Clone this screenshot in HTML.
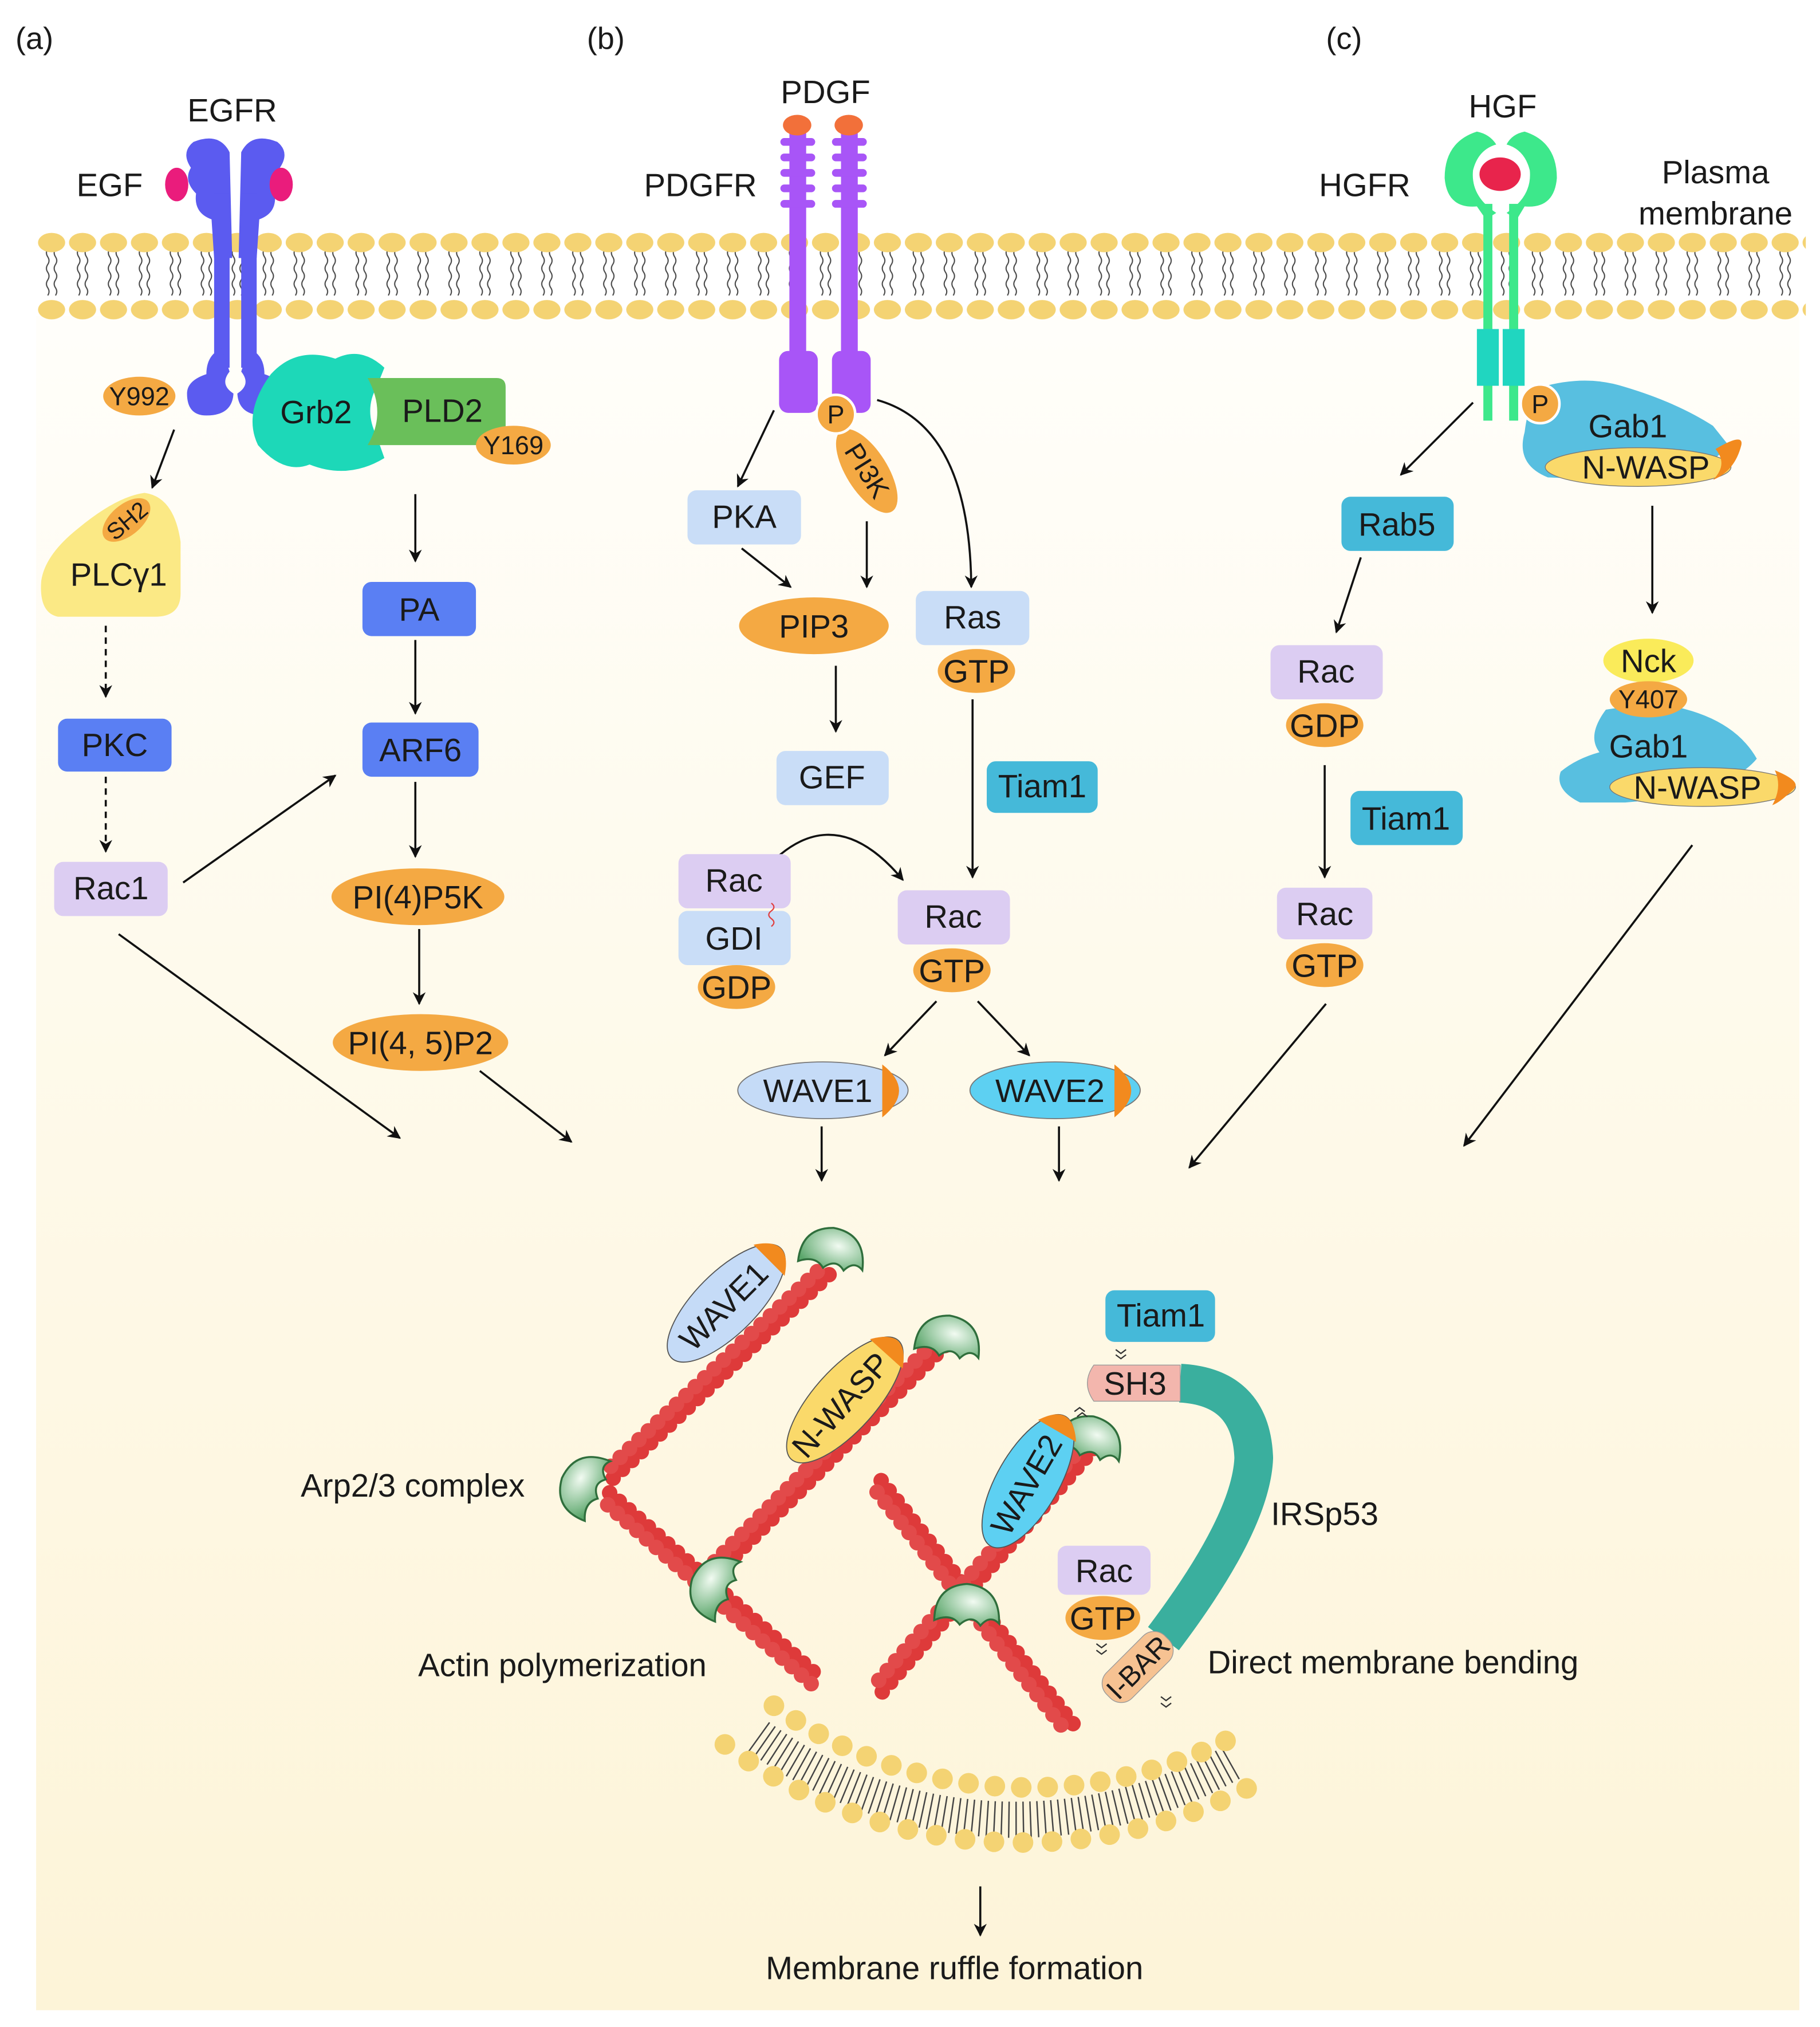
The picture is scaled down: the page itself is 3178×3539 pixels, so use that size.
<!DOCTYPE html>
<html><head><meta charset="utf-8"><style>
html,body{margin:0;padding:0;background:#fff}
svg{display:block}
text{font-family:"Liberation Sans",sans-serif;fill:#1a1a1a}
</style></head><body>
<svg width="3178" height="3539" viewBox="0 0 1411 1571" preserveAspectRatio="none" xmlns="http://www.w3.org/2000/svg" font-size="25">
<defs>
<marker id="ar" markerWidth="10" markerHeight="10" refX="9" refY="5" orient="auto" markerUnits="userSpaceOnUse"><path d="M0,0 L10,5 L0,10 L3,5Z" fill="#111"/></marker>
<linearGradient id="bg" x1="0" y1="0" x2="0" y2="1"><stop offset="0" stop-color="#fffefa"/><stop offset="0.5" stop-color="#fef9e8"/><stop offset="1" stop-color="#fdf4d8"/></linearGradient>
<radialGradient id="arp" cx="0.55" cy="0.4" r="0.7"><stop offset="0" stop-color="#f2fbf2"/><stop offset="1" stop-color="#5aa66a"/></radialGradient>
<pattern id="mem" x="28" y="178" width="24" height="72" patternUnits="userSpaceOnUse">
<path d="M9,15 q-2,3 0,6 q2,3 0,6 q-2,3 0,6 q2,3 0,6 q-2,3 0,6 q2,3 0,6 M15,15 q-2,3 0,6 q2,3 0,6 q-2,3 0,6 q2,3 0,6 q-2,3 0,6 q2,3 0,6" fill="none" stroke="#444" stroke-width="0.9"/>
<ellipse cx="12" cy="10" rx="10.5" ry="7.5" fill="#f4d373"/>
<ellipse cx="12" cy="62" rx="10.5" ry="7.5" fill="#f4d373"/>
</pattern>
<g id="arpg"><path d="M-24,12 Q-28,-14 -4,-20 Q22,-22 26,6 Q18,0 12,10 Q4,2 -4,12 Q-12,4 -24,12Z" fill="url(#arp)" stroke="#2f6e3c" stroke-width="1.5"/></g>
</defs>
<rect x="0" y="0" width="1411" height="1571" fill="#fff"/>
<rect x="28" y="245" width="1367" height="1313" fill="url(#bg)"/>

<text x="12" y="38" font-size="24">(a)</text>
<text x="455" y="38" font-size="24">(b)</text>
<text x="1028" y="38" font-size="24">(c)</text>

<rect x="28" y="178" width="1372" height="72" fill="url(#mem)"/>
<text x="1330" y="142" text-anchor="middle">Plasma</text>
<text x="1330" y="174" text-anchor="middle">membrane</text>

<!-- EGFR -->
<text x="180" y="94" text-anchor="middle">EGFR</text>
<text x="85" y="152" text-anchor="middle">EGF</text>
<g fill="#5b5bf0">
<path d="M150,110 Q170,102 178,118 L180,200 L166,200 L164,170 Q150,165 152,150 Q142,140 148,130 Q140,118 150,110Z"/>
<path d="M215,110 Q195,102 187,118 L185,200 L199,200 L201,170 Q215,165 213,150 Q223,140 217,130 Q225,118 215,110Z"/>
<rect x="166" y="150" width="12" height="135"/><rect x="187" y="150" width="12" height="135"/>
<path d="M172,270 Q160,275 160,290 Q145,295 145,305 Q145,322 160,322 Q180,322 181,305 Q170,298 178,288Z"/>
<path d="M193,270 Q205,275 205,290 Q220,295 220,305 Q220,322 205,322 Q185,322 184,305 Q195,298 187,288Z"/>
</g>
<ellipse cx="137" cy="143" rx="9" ry="13" fill="#ea1c7c"/>
<ellipse cx="218" cy="143" rx="9" ry="13" fill="#ea1c7c"/>
<ellipse cx="108" cy="307" rx="28" ry="15" fill="#f4a943"/><text x="108" y="314" font-size="20" text-anchor="middle">Y992</text>
<path d="M210,290 Q230,268 260,278 Q280,268 298,285 L292,300 Q282,318 292,338 L298,355 Q270,372 240,360 Q220,368 200,345 Q188,320 210,290Z" fill="#1dd8b8"/>
<path d="M285,293 L385,293 Q392,293 392,300 L392,338 Q392,345 385,345 L285,345 Q300,320 285,293Z" fill="#6abf5a"/>
<text x="245" y="328" text-anchor="middle">Grb2</text>
<text x="343" y="327" text-anchor="middle">PLD2</text>
<ellipse cx="398" cy="345" rx="29" ry="15" fill="#f4a943"/><text x="398" y="352" font-size="20" text-anchor="middle">Y169</text>

<g stroke="#111" stroke-width="1.6" fill="none" marker-end="url(#ar)">
<line x1="135" y1="333" x2="118" y2="378"/>
<line x1="82" y1="485" x2="82" y2="540" stroke-dasharray="5 4"/>
<line x1="82" y1="602" x2="82" y2="660" stroke-dasharray="5 4"/>
<line x1="142" y1="684" x2="260" y2="601"/>
<line x1="92" y1="724" x2="310" y2="882"/>
<line x1="322" y1="383" x2="322" y2="435"/>
<line x1="322" y1="496" x2="322" y2="553"/>
<line x1="322" y1="606" x2="322" y2="664"/>
<line x1="325" y1="720" x2="325" y2="778"/>
<line x1="372" y1="830" x2="443" y2="885"/>
</g>
<path d="M32,450 Q35,430 60,410 Q90,385 112,382 Q135,385 140,420 L140,460 Q140,478 120,478 L45,478 Q30,475 32,450Z" fill="#fbe985"/>
<ellipse cx="98" cy="403" rx="22" ry="12" fill="#f4a943" transform="rotate(-40 98 403)"/>
<text x="98" y="410" font-size="18" text-anchor="middle" transform="rotate(-40 98 403)">SH2</text>
<text x="92" y="454" text-anchor="middle">PLCγ1</text>
<rect x="45" y="557" width="88" height="41" rx="7" fill="#5a7ff3"/><text x="89" y="586" text-anchor="middle">PKC</text>
<rect x="42" y="668" width="88" height="42" rx="7" fill="#dccdf2"/><text x="86" y="697" text-anchor="middle">Rac1</text>
<rect x="281" y="451" width="88" height="42" rx="7" fill="#5a7ff3"/><text x="325" y="481" text-anchor="middle">PA</text>
<rect x="281" y="560" width="90" height="42" rx="7" fill="#5a7ff3"/><text x="326" y="590" text-anchor="middle">ARF6</text>
<ellipse cx="324" cy="695" rx="67" ry="22" fill="#f4a943"/><text x="324" y="704" text-anchor="middle">PI(4)P5K</text>
<ellipse cx="326" cy="808" rx="68" ry="22" fill="#f4a943"/><text x="326" y="817" text-anchor="middle">PI(4, 5)P2</text>

<!-- PDGFR -->
<text x="640" y="80" text-anchor="middle">PDGF</text>
<text x="543" y="152" text-anchor="middle">PDGFR</text>
<g fill="#a855f7">
<rect x="612" y="103" width="13" height="175"/><rect x="652" y="103" width="13" height="175"/>
<g stroke="#a855f7" stroke-width="6" stroke-linecap="round">
<line x1="608" y1="110" x2="629" y2="110"/><line x1="608" y1="122" x2="629" y2="122"/><line x1="608" y1="134" x2="629" y2="134"/><line x1="608" y1="146" x2="629" y2="146"/><line x1="608" y1="158" x2="629" y2="158"/>
<line x1="648" y1="110" x2="669" y2="110"/><line x1="648" y1="122" x2="669" y2="122"/><line x1="648" y1="134" x2="669" y2="134"/><line x1="648" y1="146" x2="669" y2="146"/><line x1="648" y1="158" x2="669" y2="158"/>
</g>
<rect x="604" y="272" width="30" height="48" rx="7"/><rect x="645" y="272" width="30" height="48" rx="7"/>
</g>
<ellipse cx="618" cy="97" rx="11" ry="8" fill="#f2703a"/><ellipse cx="658" cy="97" rx="11" ry="8" fill="#f2703a"/>
<ellipse cx="672" cy="365" rx="37" ry="16" fill="#f4a943" transform="rotate(58 672 365)"/>
<text x="672" y="372" font-size="21" text-anchor="middle" transform="rotate(58 672 365)">PI3K</text>
<circle cx="648" cy="321" r="15" fill="#f4a943" stroke="#fff" stroke-width="2"/><text x="648" y="328" font-size="20" text-anchor="middle">P</text>
<g stroke="#111" stroke-width="1.6" fill="none" marker-end="url(#ar)">
<line x1="600" y1="318" x2="572" y2="377"/>
<line x1="575" y1="425" x2="613" y2="455"/>
<line x1="672" y1="404" x2="672" y2="455"/>
<path d="M680,310 Q752,330 753,455"/>
<line x1="648" y1="516" x2="648" y2="567"/>
<path d="M583,686 Q640,610 700,682"/>
<line x1="754" y1="542" x2="754" y2="680"/>
<line x1="726" y1="776" x2="686" y2="818"/>
<line x1="758" y1="776" x2="798" y2="818"/>
<line x1="637" y1="873" x2="637" y2="915"/>
<line x1="821" y1="873" x2="821" y2="915"/>
</g>
<rect x="533" y="380" width="88" height="42" rx="7" fill="#c9ddf7"/><text x="577" y="409" text-anchor="middle">PKA</text>
<ellipse cx="631" cy="485" rx="58" ry="22" fill="#f4a943"/><text x="631" y="494" text-anchor="middle">PIP3</text>
<rect x="710" y="458" width="88" height="42" rx="7" fill="#c9ddf7"/><text x="754" y="487" text-anchor="middle">Ras</text>
<ellipse cx="757" cy="520" rx="30" ry="17" fill="#f4a943"/><text x="757" y="529" text-anchor="middle">GTP</text>
<rect x="602" y="582" width="87" height="42" rx="7" fill="#c9ddf7"/><text x="645" y="611" text-anchor="middle">GEF</text>
<rect x="526" y="662" width="87" height="42" rx="7" fill="#dccdf2"/><text x="569" y="691" text-anchor="middle">Rac</text>
<rect x="526" y="706" width="87" height="42" rx="7" fill="#c9ddf7"/><text x="569" y="736" text-anchor="middle">GDI</text>
<path d="M598,700 q4,3 0,6 q-4,3 0,6 q4,3 0,6" stroke="#e04040" fill="none" stroke-width="1"/>
<ellipse cx="571" cy="765" rx="30" ry="17" fill="#f4a943"/><text x="571" y="774" text-anchor="middle">GDP</text>
<rect x="765" y="590" width="86" height="40" rx="7" fill="#45b9d9"/><text x="808" y="618" text-anchor="middle">Tiam1</text>
<rect x="696" y="690" width="87" height="42" rx="7" fill="#dccdf2"/><text x="739" y="719" text-anchor="middle">Rac</text>
<ellipse cx="738" cy="752" rx="30" ry="17" fill="#f4a943"/><text x="738" y="761" text-anchor="middle">GTP</text>
<ellipse cx="638" cy="845" rx="66" ry="22" fill="#c5dbf7" stroke="#777" stroke-width="0.8"/>
<path d="M684,825 Q710,845 684,866 L684,825Z" fill="#f28a1e"/>
<text x="634" y="854" text-anchor="middle">WAVE1</text>
<ellipse cx="818" cy="845" rx="66" ry="22" fill="#5dd0f2" stroke="#777" stroke-width="0.8"/>
<path d="M864,825 Q890,845 864,866 L864,825Z" fill="#f28a1e"/>
<text x="814" y="854" text-anchor="middle">WAVE2</text>

<!-- HGFR -->
<text x="1165" y="91" text-anchor="middle">HGF</text>
<text x="1058" y="152" text-anchor="middle">HGFR</text>
<path d="M1145,102 Q1120,110 1120,138 Q1122,162 1145,160 L1152,170 L1160,165 Q1140,152 1142,132 Q1146,116 1160,112 Q1155,104 1145,102Z" fill="#3de88b"/>
<path d="M1182,102 Q1207,110 1207,138 Q1205,162 1182,160 L1176,170 L1168,165 Q1188,152 1186,132 Q1182,116 1168,112 Q1172,104 1182,102Z" fill="#3de88b"/>
<rect x="1150" y="158" width="7" height="168" fill="#3de88b"/><rect x="1170" y="158" width="7" height="168" fill="#3de88b"/>
<ellipse cx="1163" cy="135" rx="16" ry="13" fill="#e8244c"/>
<rect x="1145" y="255" width="17" height="44" fill="#20d6c0"/><rect x="1165" y="255" width="17" height="44" fill="#20d6c0"/>
<path d="M1195,300 Q1230,290 1260,300 Q1300,312 1328,330 L1340,345 Q1320,372 1250,372 L1200,370 Q1175,360 1182,335 Q1185,310 1195,300Z" fill="#58bfe0"/>
<ellipse cx="1270" cy="362" rx="72" ry="15" fill="#fad96a" stroke="#777" stroke-width="0.6"/>
<path d="M1330,348 Q1352,335 1350,345 Q1345,365 1328,372 Q1340,360 1330,348Z" fill="#f28a1e"/>
<text x="1262" y="339" text-anchor="middle">Gab1</text>
<text x="1276" y="371" text-anchor="middle">N-WASP</text>
<circle cx="1194" cy="313" r="15" fill="#f4a943" stroke="#fff" stroke-width="2"/><text x="1194" y="320" font-size="20" text-anchor="middle">P</text>
<g stroke="#111" stroke-width="1.6" fill="none" marker-end="url(#ar)">
<line x1="1142" y1="312" x2="1086" y2="368"/>
<line x1="1055" y1="432" x2="1036" y2="490"/>
<line x1="1027" y1="593" x2="1027" y2="680"/>
<line x1="1281" y1="392" x2="1281" y2="475"/>
<line x1="1028" y1="778" x2="922" y2="905"/>
<line x1="1312" y1="655" x2="1135" y2="888"/>
</g>
<rect x="1040" y="385" width="87" height="42" rx="7" fill="#45b9d9"/><text x="1083" y="415" text-anchor="middle">Rab5</text>
<rect x="985" y="500" width="87" height="42" rx="7" fill="#dccdf2"/><text x="1028" y="529" text-anchor="middle">Rac</text>
<ellipse cx="1027" cy="562" rx="30" ry="17" fill="#f4a943"/><text x="1027" y="571" text-anchor="middle">GDP</text>
<rect x="1047" y="613" width="87" height="42" rx="7" fill="#45b9d9"/><text x="1090" y="643" text-anchor="middle">Tiam1</text>
<rect x="990" y="688" width="74" height="40" rx="7" fill="#dccdf2"/><text x="1027" y="717" text-anchor="middle">Rac</text>
<ellipse cx="1027" cy="748" rx="30" ry="17" fill="#f4a943"/><text x="1027" y="757" text-anchor="middle">GTP</text>
<path d="M1245,550 Q1275,545 1300,548 Q1345,558 1362,588 Q1340,615 1260,622 L1225,622 Q1205,612 1210,598 Q1222,588 1240,583 Q1230,570 1245,550Z" fill="#58bfe0"/>
<ellipse cx="1278" cy="512" rx="35" ry="17" fill="#faeb5a"/><text x="1278" y="521" text-anchor="middle">Nck</text>
<ellipse cx="1278" cy="542" rx="30" ry="14" fill="#f4a943"/><text x="1278" y="549" font-size="20" text-anchor="middle">Y407</text>
<text x="1278" y="587" text-anchor="middle">Gab1</text>
<ellipse cx="1320" cy="610" rx="72" ry="15" fill="#fad96a" stroke="#777" stroke-width="0.6"/>
<path d="M1376,597 Q1398,606 1390,612 Q1380,622 1374,624 Q1382,610 1376,597Z" fill="#f28a1e"/>
<text x="1316" y="619" text-anchor="middle">N-WASP</text>

<!-- curved membrane -->
<path d="M588,1346 A340,340 0 0 0 955,1366" fill="none" stroke="#444" stroke-width="28" stroke-dasharray="1.1 4.5"/>
<path d="M600,1322 A340,340 0 0 0 962,1343" fill="none" stroke="#f4d373" stroke-width="16" stroke-linecap="round" stroke-dasharray="0 20.5"/>
<path d="M562,1352 A385,385 0 0 0 985,1376" fill="none" stroke="#f4d373" stroke-width="16" stroke-linecap="round" stroke-dasharray="0 22.5"/>

<!-- actin filaments -->
<g stroke-width="12" stroke-linecap="round" fill="none">
<g transform="translate(640,985) rotate(136.7)"><line x1="0" y1="-4" x2="233" y2="-4" stroke="#de3a3a" stroke-dasharray="0 10"/><line x1="5" y1="4" x2="233" y2="4" stroke="#e24a4a" stroke-dasharray="0 10"/></g>
<g transform="translate(470,1160) rotate(41.3)"><line x1="0" y1="-4" x2="220" y2="-4" stroke="#de3a3a" stroke-dasharray="0 10"/><line x1="5" y1="4" x2="220" y2="4" stroke="#e24a4a" stroke-dasharray="0 10"/></g>
<g transform="translate(730,1040) rotate(135)"><line x1="0" y1="-4" x2="262" y2="-4" stroke="#de3a3a" stroke-dasharray="0 10"/><line x1="5" y1="4" x2="262" y2="4" stroke="#e24a4a" stroke-dasharray="0 10"/></g>
<g transform="translate(680,1150) rotate(51.7)"><line x1="0" y1="-4" x2="242" y2="-4" stroke="#de3a3a" stroke-dasharray="0 10"/><line x1="5" y1="4" x2="242" y2="4" stroke="#e24a4a" stroke-dasharray="0 10"/></g>
<g transform="translate(845,1120) rotate(131)"><line x1="0" y1="-4" x2="252" y2="-4" stroke="#de3a3a" stroke-dasharray="0 10"/><line x1="5" y1="4" x2="252" y2="4" stroke="#e24a4a" stroke-dasharray="0 10"/></g>
</g>
<use href="#arpg" transform="translate(645,972) rotate(15)"/>
<use href="#arpg" transform="translate(735,1040) rotate(15)"/>
<use href="#arpg" transform="translate(845,1118) rotate(20)"/>
<use href="#arpg" transform="translate(455,1152) rotate(-60)"/>
<use href="#arpg" transform="translate(556,1230) rotate(-60)"/>
<use href="#arpg" transform="translate(750,1248) rotate(10)"/>
<g transform="rotate(-45 563 1010)"><ellipse cx="563" cy="1010" rx="60" ry="24" fill="#c5dbf7" stroke="#555" stroke-width="0.8"/><path d="M610,993 Q636,1010 610,1027 Z" fill="#f28a1e"/><text x="560" y="1019" text-anchor="middle">WAVE1</text></g>
<g transform="rotate(-48 655 1085)"><ellipse cx="655" cy="1085" rx="62" ry="24" fill="#fad96a" stroke="#555" stroke-width="0.8"/><path d="M703,1068 Q730,1085 703,1102 Z" fill="#f28a1e"/><text x="650" y="1094" text-anchor="middle">N-WASP</text></g>
<g transform="rotate(-60 797 1148)"><ellipse cx="797" cy="1148" rx="58" ry="24" fill="#5dd0f2" stroke="#555" stroke-width="0.8"/><path d="M842,1131 Q868,1148 842,1165 Z" fill="#f28a1e"/><text x="794" y="1157" text-anchor="middle">WAVE2</text></g>

<!-- IRSp53 -->
<path d="M915,1072 Q970,1075 972,1130 Q970,1180 902,1270" fill="none" stroke="#3aaf9e" stroke-width="30" stroke-linejoin="round"/>
<path d="M848,1058 L915,1058 L915,1086 L848,1086 Q838,1072 848,1058Z" fill="#f3b6ad" stroke="#999" stroke-width="0.6"/>
<text x="880" y="1081" text-anchor="middle">SH3</text>
<g transform="rotate(-45 882 1292)"><rect x="850" y="1278" width="64" height="28" rx="12" fill="#f6c292" stroke="#999" stroke-width="0.6"/><text x="882" y="1300" font-size="22" text-anchor="middle">I-BAR</text></g>
<rect x="857" y="1000" width="85" height="40" rx="7" fill="#45b9d9"/><text x="900" y="1028" text-anchor="middle">Tiam1</text>
<rect x="820" y="1198" width="72" height="38" rx="7" fill="#dccdf2"/><text x="856" y="1226" text-anchor="middle">Rac</text>
<ellipse cx="855" cy="1254" rx="29" ry="17" fill="#f4a943"/><text x="855" y="1263" text-anchor="middle">GTP</text>
<g fill="none" stroke="#333" stroke-width="1"><path d="M865,1046 l4,3 l4,-3 M865,1050 l4,3 l4,-3"/><path d="M850,1274 l4,3 l4,-3 M850,1279 l4,3 l4,-3"/><path d="M900,1315 l4,3 l4,-3 M900,1320 l4,3 l4,-3"/><path d="M833,1094 l4,-3 l4,3 M835,1098 l4,-3 l4,3"/></g>

<text x="320" y="1160" text-anchor="middle">Arp2/3 complex</text>
<text x="1027" y="1182" text-anchor="middle">IRSp53</text>
<text x="436" y="1299" text-anchor="middle">Actin polymerization</text>
<text x="1080" y="1297" text-anchor="middle">Direct membrane bending</text>
<line x1="760" y1="1462" x2="760" y2="1500" stroke="#111" stroke-width="1.6" marker-end="url(#ar)"/>
<text x="740" y="1534" text-anchor="middle">Membrane ruffle formation</text>
</svg>
</body></html>
